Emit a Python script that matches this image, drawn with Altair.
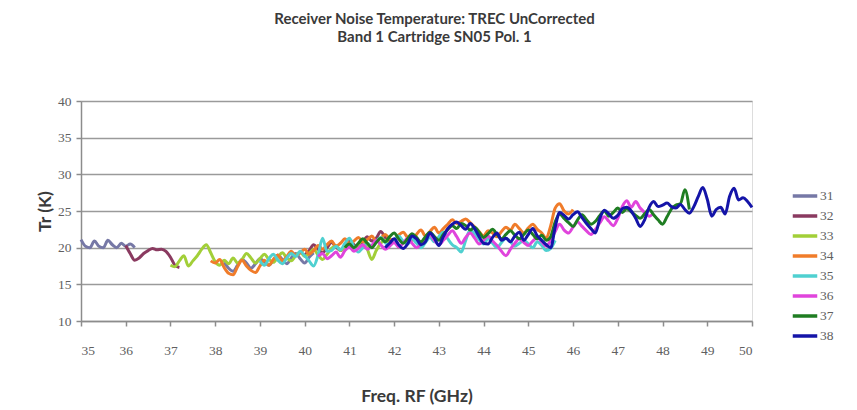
import altair as alt
import pandas as pd

SERIES = ["31", "32", "33", "34", "35", "36", "37", "38"]
COLORS = ["#7678a6", "#8a3a60", "#a2cf38", "#f07c2a", "#4fd0d0", "#e044dc", "#1f7d22", "#1414a8"]
STEP = 0.1

# (series, segment start GHz, values every 0.1 GHz)
S31_A_START, S31_A = 35.0, [21.1, 20.2, 20.0, 20.9, 20.2, 20.0, 21.0, 20.4, 20.0, 20.6, 20.2, 20.5, 20.0]
S31_B_START, S31_B = 38.2, [18.0, 17.2, 16.8, 17.6, 18.4, 17.9, 17.2, 17.8, 18.5, 18.1, 17.6, 18.3, 19.0,
                             18.4, 17.8, 18.6, 19.2, 18.5, 17.9, 18.7, 19.3]
S32_A_START, S32_A = 36.0, [20.3, 19.2, 18.3, 18.6, 19.2, 19.6, 19.9, 19.7, 19.8, 19.5, 18.7, 17.6, 17.3]
S32_B_START, S32_B = 40.0, [19.0, 19.6, 20.4, 19.8, 19.3, 20.0, 20.7, 20.1, 19.6, 20.3, 21.0, 20.4, 20.0,
                             20.8, 21.5, 20.9, 21.3, 22.2, 21.4, 20.9]
S33_START, S33 = 37.0, [17.6, 17.4, 18.2, 18.9, 17.5, 18.2, 18.9, 19.8, 20.4, 19.3, 18.1, 17.6, 18.3, 17.8,
                        18.6, 17.9, 18.4, 19.2, 18.6, 17.9, 18.5, 19.1, 18.4, 18.0, 18.7, 19.3, 18.6, 18.2,
                        18.9, 19.4, 18.8, 19.2, 19.8, 19.0, 18.4, 19.1, 19.9, 20.3, 19.6, 20.1, 20.6, 19.8,
                        20.4, 21.0, 19.8, 18.4, 19.6, 20.6, 21.0, 20.5, 21.2]
S34_START, S34 = 37.9, [18.2, 17.9, 18.4, 17.3, 16.5, 16.3, 17.4, 18.3, 17.5, 16.9, 16.6, 17.5, 18.3, 17.6,
                        18.4, 19.0, 18.2, 18.8, 19.5, 18.9, 19.3, 19.8, 19.1, 19.6, 20.3, 19.8, 20.4, 20.9,
                        20.2, 20.6, 21.2, 20.5, 20.9, 21.4, 20.8, 21.1, 21.6, 20.9, 21.3, 21.8, 21.2, 21.0,
                        21.7, 22.1, 21.4, 21.0, 21.8, 22.4, 21.6, 22.2, 22.8, 22.0, 22.6, 23.2, 23.8, 23.3,
                        23.6, 23.9, 23.4, 22.8, 22.2, 21.6, 22.3, 22.0, 21.5, 22.2, 22.8, 22.4, 23.2, 22.6,
                        22.0, 22.7, 23.2, 22.5, 22.0, 21.3, 23.0, 25.4, 26.0, 25.0, 24.6, 25.2]
S35_START, S35 = 39.0, [18.2, 17.6, 18.5, 19.1, 18.3, 17.8, 18.6, 19.2, 18.8, 19.5, 18.9, 18.2, 17.5, 19.0,
                        21.3, 19.5, 19.6, 20.2, 19.7, 20.6, 21.3, 20.1, 19.4, 20.0, 20.6, 20.2, 20.8, 21.4,
                        20.7, 20.3, 21.0, 21.6, 20.9, 20.5, 21.2, 20.6, 20.0, 20.7, 21.4, 20.8, 21.5, 22.1,
                        21.2, 20.4, 20.0, 19.4, 21.0, 22.4, 21.9, 21.1, 20.5, 21.2, 20.6, 20.0, 20.7, 21.3,
                        20.8, 20.2, 20.6, 21.0, 20.5, 20.0, 20.8, 20.3, 19.6, 19.9, 21.0]
S36_START, S36 = 40.3, [18.8, 19.2, 18.5, 18.9, 19.4, 18.7, 19.6, 20.1, 19.5, 19.9, 20.4, 19.8, 20.3, 21.0,
                        20.4, 19.8, 20.2, 20.7, 20.1, 20.6, 21.3, 20.6, 20.0, 20.5, 21.2, 21.8, 21.0, 20.4,
                        21.0, 21.7, 22.3, 21.5, 20.6, 21.4, 22.0, 21.3, 20.5, 21.0, 21.6, 20.9, 20.3, 19.5,
                        18.9, 19.8, 20.6, 21.2, 20.7, 20.3, 20.9, 21.4, 20.8, 20.2, 21.0, 22.2, 23.2, 22.4,
                        22.0, 22.8, 23.5, 22.9, 22.3, 21.8, 22.5, 23.4, 24.2, 23.6, 23.0, 24.0, 25.6, 26.4,
                        25.5, 26.3, 25.4, 24.8, 24.3, 24.7]
S37_START, S37 = 40.9, [20.0, 20.5, 20.0, 20.6, 21.2, 20.6, 20.0, 20.7, 21.3, 20.8, 21.5, 22.0, 21.2, 20.6,
                        21.2, 21.9, 21.4, 20.8, 21.5, 22.1, 21.5, 21.0, 21.8, 22.5, 23.0, 22.6, 23.3, 23.0,
                        22.4, 22.8, 22.1, 21.4, 21.9, 22.5, 21.8, 21.2, 21.8, 22.3, 21.7, 21.2, 21.8, 22.4,
                        21.8, 21.2, 21.7, 21.0, 21.5, 23.5, 24.6, 24.0, 23.4, 22.9, 23.8, 24.5, 23.8, 23.2,
                        23.6, 24.4, 25.0, 24.3, 24.8, 25.4, 24.8, 25.3, 24.9, 24.4, 24.0, 24.6, 25.2, 24.5,
                        23.8, 23.2, 24.2, 25.3, 25.8, 26.0, 27.9, 25.2]
S38_START, S38 = 41.8, [20.0, 20.6, 21.2, 20.4, 19.9, 20.5, 21.6, 21.2, 20.4, 20.8, 22.0, 21.3, 20.3, 21.5,
                        22.6, 23.2, 23.5, 23.0, 22.5, 23.3, 22.6, 21.5, 20.6, 20.5, 21.4, 22.0, 21.0, 21.3,
                        20.8, 21.6, 22.1, 21.0, 21.8, 22.6, 21.6, 21.0, 20.4, 20.0, 22.8, 24.8, 24.4, 23.9,
                        24.5, 24.9, 24.1, 23.3, 22.6, 22.0, 24.0, 25.1, 24.6, 24.0, 24.4, 25.3, 25.5, 25.0,
                        24.0, 22.9, 23.8, 25.5, 26.3, 25.6, 25.8, 26.1, 25.6, 25.4, 25.9, 25.2, 24.7, 25.6,
                        27.0, 28.2, 26.6, 24.3, 25.2, 25.5, 24.6, 27.0, 28.1, 26.5, 26.8, 26.3, 25.5]

SEGMENTS = [
    ("31", "31a", S31_A_START, S31_A), ("31", "31b", S31_B_START, S31_B),
    ("32", "32a", S32_A_START, S32_A), ("32", "32b", S32_B_START, S32_B),
    ("33", "33", S33_START, S33), ("34", "34", S34_START, S34),
    ("35", "35", S35_START, S35), ("36", "36", S36_START, S36),
    ("37", "37", S37_START, S37), ("38", "38", S38_START, S38),
]

rows = []
for ser, seg, start, vals in SEGMENTS:
    for i, v in enumerate(vals):
        rows.append({"series": ser, "seg": seg, "freq": round(start + STEP * i, 2), "tr": v})
df = pd.DataFrame(rows)

X_TICKS = list(range(35, 51))
Y_TICKS = [10, 15, 20, 25, 30, 35, 40]

lines = alt.Chart(df).mark_line(strokeWidth=3, interpolate="monotone", strokeJoin="round").encode(
    x=alt.X("freq:Q", scale=alt.Scale(domain=[35, 50], nice=False, zero=False),
            axis=alt.Axis(values=X_TICKS, title="Freq. RF (GHz)", grid=False, format="d",
                          labelFont="Liberation Serif", labelFontSize=13.5, labelColor="#606060",
                          labelPadding=17, tickSize=5, tickColor="#8c8c8c", domainColor="#8c8c8c",
                          domainWidth=1.5, tickWidth=1.5,
                          titleFont="Lato", titleFontSize=17.5, titleFontWeight="bold",
                          titleColor="#3a3a3a", titlePadding=31)),
    y=alt.Y("tr:Q", scale=alt.Scale(domain=[10, 40], nice=False, zero=False),
            axis=alt.Axis(values=Y_TICKS, title="Tr (K)", grid=True, gridColor="#9a9a9a",
                          gridWidth=1.6, labelFont="Liberation Serif", labelFontSize=13.5,
                          labelColor="#606060", labelPadding=5, tickSize=5, tickColor="#8c8c8c",
                          domainColor="#8c8c8c", domainWidth=1.5, tickWidth=1.5,
                          titleFont="Lato", titleFontSize=17.5, titleFontWeight="bold",
                          titleColor="#3a3a3a", titlePadding=3)),
    color=alt.Color("series:N", scale=alt.Scale(domain=SERIES, range=COLORS),
                    legend=alt.Legend(title=None, orient="none", legendX=710, legendY=88,
                                      symbolType="stroke", symbolSize=600, symbolStrokeWidth=3.5,
                                      labelFont="Liberation Serif", labelFontSize=13.5,
                                      labelColor="#606060", clipHeight=14, rowPadding=6,
                                      labelOffset=1)),
    detail="seg:N",
    order=alt.Order("freq:Q"),
)

chart = lines.properties(
    width=671, height=220,
    title=alt.TitleParams(
        text=["Receiver Noise Temperature: TREC UnCorrected", "Band 1 Cartridge SN05 Pol. 1"],
        font="Lato", fontSize=15, fontWeight="bold", color="#3a3a3a", anchor="middle",
        dx=18, offset=49, lineHeight=18),
    autosize=alt.AutoSizeParams(type="none"),
    padding={"left": 81, "top": 101, "right": 105, "bottom": 89},
).configure_view(stroke=None).configure(background="white")

chart.save("out.html", embed_options={"renderer": "svg", "actions": False})
